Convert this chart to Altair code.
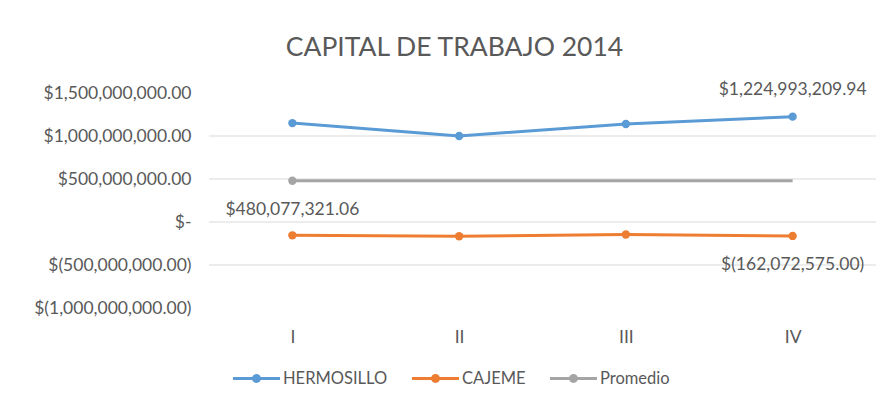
import altair as alt
import pandas as pd

quarters = ["I", "II", "III", "IV"]
series_names = ["HERMOSILLO", "CAJEME", "Promedio"]
hermosillo = [1150000000.00, 1000000000.00, 1140000000.00, 1224993209.94]
cajeme = [-155000000.00, -166000000.00, -145000000.00, -162072575.00]
promedio = [480077321.06, 480077321.06, 480077321.06, 480077321.06]
colors = ["#5B9BD5", "#ED7D31", "#A5A5A5"]
y_ticks = [-1000000000, -500000000, 0, 500000000, 1000000000, 1500000000]
grid_values = [-500000000, 0, 500000000, 1000000000]
labels_above = [("HERMOSILLO", "IV")]
labels_below = [("CAJEME", "IV"), ("Promedio", "I")]
marker_points = [("HERMOSILLO", q) for q in quarters] + [("CAJEME", q) for q in quarters] + [("Promedio", "I")]

series_values = {"HERMOSILLO": hermosillo, "CAJEME": cajeme, "Promedio": promedio}
rows = []
for s in series_names:
    for q, v in zip(quarters, series_values[s]):
        rows.append({"serie": s, "q": q, "v": v})
df = pd.DataFrame(rows)

def pick(pairs):
    return df[[(r.serie, r.q) in pairs for r in df.itertuples()]]

FONT = "Lato"
GRAY = "#595959"
FS = 17.5
fmt = "(datum.v < 0 ? '$(' + format(-datum.v, ',.2f') + ')' : '$' + format(datum.v, ',.2f'))"

x_enc = alt.X("q:N", sort=quarters,
              scale=alt.Scale(type="point", padding=0.5),
              axis=alt.Axis(title=None, labelAngle=0, ticks=False, domain=False, grid=False,
                            labelPadding=20, labelColor=GRAY, labelFontSize=FS, labelFont=FONT))
y_scale = alt.Scale(domain=[-1000000000, 1500000000], nice=False, zero=False)
y_axis = alt.Axis(title=None, values=y_ticks, ticks=False, domain=False, grid=False,
                  labelPadding=18, labelColor=GRAY, labelFontSize=FS, labelFont=FONT,
                  labelExpr="datum.value == 0 ? '$-' : (datum.value < 0 ? '$(' + format(-datum.value, ',.2f') + ')' : '$' + format(datum.value, ',.2f'))")
y_enc = alt.Y("v:Q", scale=y_scale, axis=y_axis)
color_scale = alt.Scale(domain=series_names, range=colors)
legend_symbol = ("M-1,-0.064H1V0.064H-1Z"
                 "M-0.19,0A0.19,0.19 0 1,1 0.19,0A0.19,0.19 0 1,1 -0.19,0Z")
legend = alt.Legend(title=None, orient="none", direction="horizontal",
                    legendX=24, legendY=262,
                    symbolType=legend_symbol,
                    symbolSize=2209, symbolStrokeWidth=0,
                    labelFont=FONT, labelFontSize=16.5, labelColor=GRAY,
                    labelOffset=3, columnPadding=24)
color_enc = alt.Color("serie:N", scale=color_scale, legend=legend)

grid = alt.Chart(pd.DataFrame({"v": grid_values})).mark_rule(color="#D9D9D9", strokeWidth=1).encode(
    y=y_enc)

lines = alt.Chart(df).mark_line(strokeWidth=3).encode(
    x=x_enc, y=y_enc, color=color_enc, detail="serie:N", order=alt.Order("q:N"))

points = alt.Chart(pick(marker_points)).mark_point(filled=True, size=70, opacity=1).encode(
    x=x_enc, y=y_enc, color=color_enc)

text_above = alt.Chart(pick(labels_above)).transform_calculate(lab=fmt).mark_text(
    font=FONT, fontSize=FS, color=GRAY, dy=-27).encode(x=x_enc, y=y_enc, text="lab:N")
text_below = alt.Chart(pick(labels_below)).transform_calculate(lab=fmt).mark_text(
    font=FONT, fontSize=FS, color=GRAY, dy=29).encode(x=x_enc, y=y_enc, text="lab:N")

chart = alt.layer(grid, lines, points, text_above, text_below).properties(
    width=667, height=215,
    autosize=alt.AutoSizeParams(type="none"),
    padding={"left": 201, "top": 85, "right": 4, "bottom": 88},
    title=alt.TitleParams("CAPITAL DE TRABAJO 2014", font=FONT, fontSize=26.5, fontWeight="normal",
                          color=GRAY, anchor="middle", dx=-88, offset=19),
).configure_view(stroke=None)

chart.save("out.html", embed_options={"renderer": "svg", "actions": False})
